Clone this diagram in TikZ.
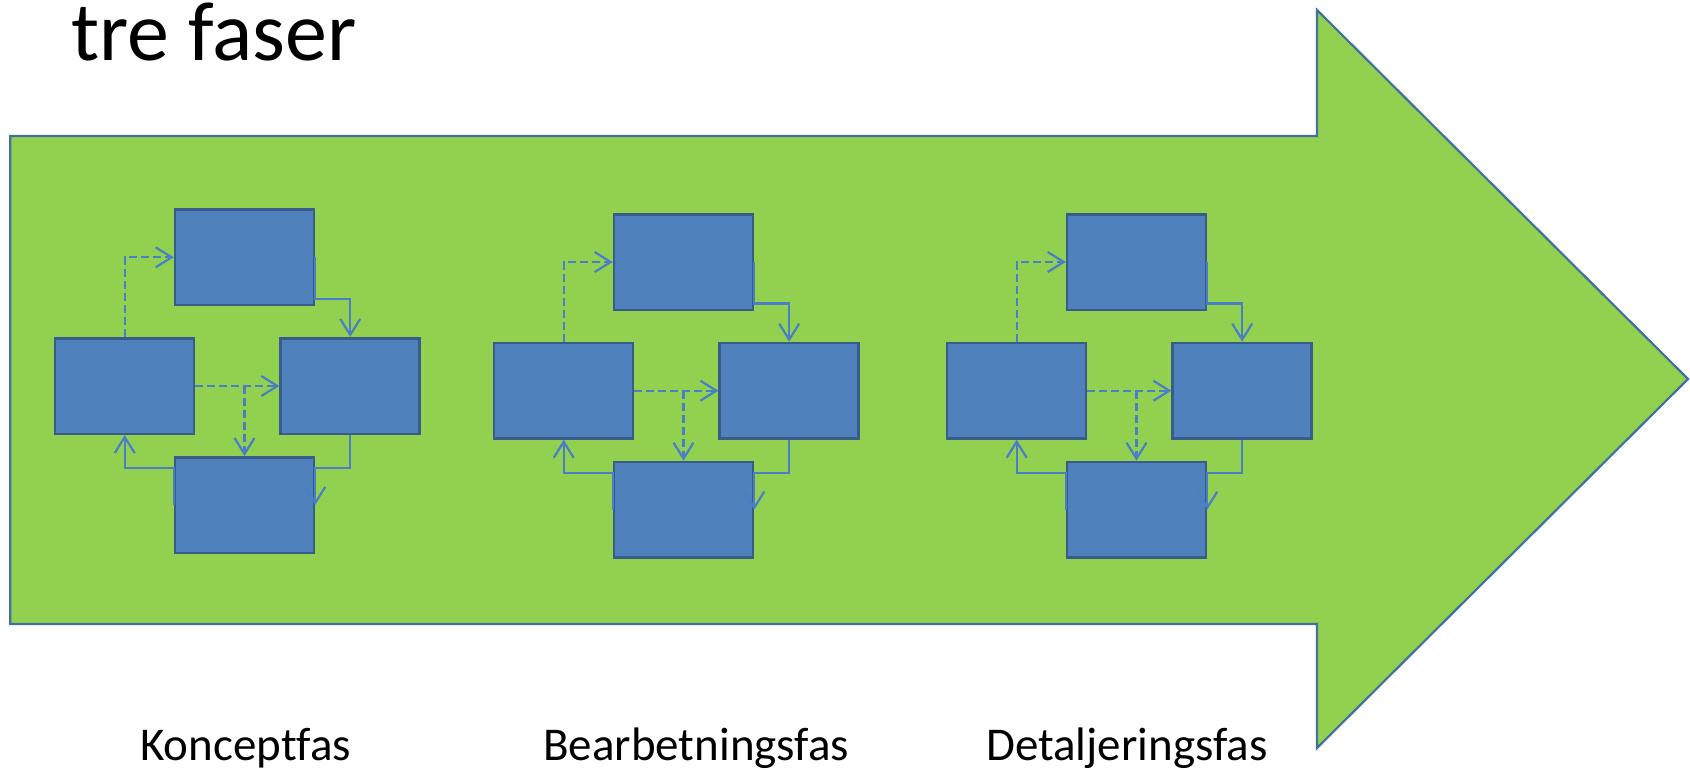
\documentclass[tikz,border=0pt]{standalone}
\usepackage{fontspec}
\setmainfont[Ligatures=NoCommon]{Carlito}
\usetikzlibrary{arrows.meta}

\definecolor{phasegreen}{HTML}{92D050}
\definecolor{arrowedge}{HTML}{41719C}
\definecolor{boxfill}{HTML}{4F81BD}
\definecolor{boxedge}{HTML}{385D8A}
\definecolor{linkblue}{HTML}{4A7EC6}

\tikzset{
  stepbox/.style={draw=boxedge, fill=boxfill, line width=2.5pt,
    minimum width=139pt, minimum height=95.5pt, inner sep=0pt},
  link/.style={draw=linkblue, line width=2.2pt,
    -{Straight Barb[length=16pt,width=20pt]}},
  dashlink/.style={link, dash pattern=on 8pt off 4pt},
  phaselabel/.style={anchor=base west, font=\fontsize{47}{52}\selectfont, inner sep=0pt},
}

% one group of four linked boxes; #1 = name prefix, #2 = shift
\newcommand{\phasegroup}[2]{%
  \begin{scope}[shift={#2}]
    \node[stepbox] (#1top)    at (244.5,257.3) {};
    \node[stepbox] (#1left)   at (124.7,386)   {};
    \node[stepbox] (#1right)  at (350.2,386)   {};
    \node[stepbox] (#1bottom) at (244.5,505)   {};
  \end{scope}
  \draw[dashlink] (#1left.north) |- (#1top.west);
  \draw[link] (#1top.east) -- ([yshift=7.6pt]#1top.south east) -| (#1right.north);
  \draw[dashlink] (#1left.east) -- (#1right.west);
  \draw[dashlink] (#1bottom.north |- #1left.east) -- (#1bottom.north);
  \draw[link] (#1right.south) |- ([yshift=-12pt]#1bottom.north east) -- (#1bottom.east);
  \draw[link] (#1bottom.west) -- ([yshift=-12pt]#1bottom.north west) -| (#1left.south);
}

\begin{document}
\begin{tikzpicture}[x=1pt,y=-1pt]
  \useasboundingbox (0,0) rectangle (1690,769);

  % the large process arrow
  \draw[draw=arrowedge, fill=phasegreen, line width=2.2pt, line join=miter]
    (10.3,136) -- (1317,136) -- (1317,10) -- (1688,379)
    -- (1317,748) -- (1317,624) -- (10.3,624) -- cycle;

  \node[anchor=base west, font=\fontsize{84}{90}\selectfont, inner sep=0pt]
    (title) at (71,60) {tre faser};

  \phasegroup{a}{(0,0)}
  \phasegroup{b}{(439,4.7)}
  \phasegroup{c}{(892,4.7)}

  \node[phaselabel] (lab1) at (140,760) {Konceptfas};
  \node[phaselabel] (lab2) at (543,760) {Bearbetningsfas};
  \node[phaselabel] (lab3) at (986,760) {Detaljeringsfas};
\end{tikzpicture}
\end{document}
